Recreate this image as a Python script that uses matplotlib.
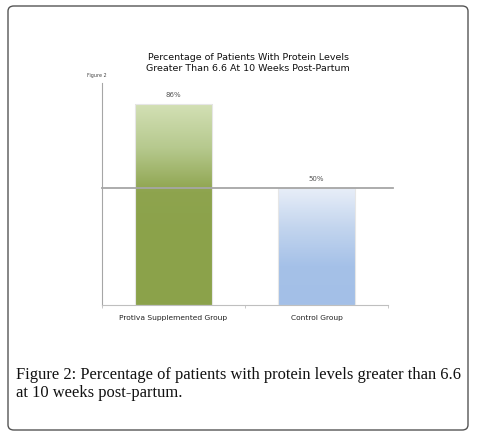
import numpy as np
import matplotlib
matplotlib.use("Agg")
import matplotlib.pyplot as plt
from matplotlib.patches import FancyBboxPatch
from matplotlib.colors import LinearSegmentedColormap

groups = ["Protiva Supplemented Group", "Control Group"]
values = [86, 50]
labels = ["86%", "50%"]
ref_level = 50

fig = plt.figure(figsize=(4.9, 4.36), dpi=100)
W, H = 490, 436

# outer rounded frame
frame = FancyBboxPatch((8 / W, 6 / H), 460 / W, 424 / H,
                       boxstyle="round,pad=0,rounding_size=0.012",
                       transform=fig.transFigure, fill=False,
                       edgecolor="#555555", linewidth=1.0)
fig.patches.append(frame)

ax = fig.add_axes([102 / W, 1 - 305 / H, 286 / W, 222 / H])
ax.set_xlim(-0.5, 1.5)
ax.set_ylim(0, 95)

grad_colors = [
    ["#d3e0b5", "#b6c98e", "#8ea44e", "#8ba24a"],
    ["#e8eef8", "#c3d5ee", "#a5c1e8", "#a3bfe7"],
]
width = 0.54
for i, (v, cols) in enumerate(zip(values, grad_colors)):
    cmap = LinearSegmentedColormap.from_list(f"g{i}", cols[::-1])
    grad = np.linspace(0, 1, 256).reshape(-1, 1)
    bar = ax.bar(i, v, width=width, color="none", edgecolor="#e6e6e6", linewidth=0.8, zorder=3)[0]
    lo = 0 if i == 1 else v * 0.35
    im = ax.imshow(grad, cmap=cmap, aspect="auto", origin="lower",
                   extent=(i - width / 2, i + width / 2, lo, v), zorder=2)
    im.set_clip_path(bar)
    if lo > 0:
        ax.bar(i, lo, width=width, color=cols[-1], linewidth=0, zorder=2)
    ax.text(i, v + 2.5, labels[i], ha="center", va="bottom", fontsize=5, color="#555555")

ax.set_xlim(-0.5, 1.5)
ax.set_ylim(0, 95)

ax.plot([-0.5, 1.535], [ref_level, ref_level], color="#a6a6a6", linewidth=1.3,
        clip_on=False, zorder=4)

for s in ["top", "right"]:
    ax.spines[s].set_visible(False)
ax.spines["left"].set_color("#a6a6a6")
ax.spines["bottom"].set_color("#bfbfbf")
ax.spines["left"].set_linewidth(0.8)
ax.spines["bottom"].set_linewidth(0.8)
ax.set_yticks([])
ax.set_xticks([-0.5, 0.5, 1.5], minor=True)
ax.tick_params(axis="x", which="minor", length=2, color="#bfbfbf")
ax.set_xticks([0, 1])
ax.set_xticklabels(groups, fontsize=5.4, color="#222222")
ax.tick_params(axis="x", which="major", length=0, pad=7)

fig.text(248 / W, 1 - 63 / H,
         "Percentage of Patients With Protein Levels\nGreater Than 6.6 At 10 Weeks Post-Partum",
         ha="center", va="center", fontsize=6.8, color="#111111", linespacing=1.25)
fig.text(97 / W, 1 - 75 / H, "Figure 2", ha="center", va="center", fontsize=3.5, color="#444444")

fig.text(16 / W, 1 - 384 / H,
         "Figure 2: Percentage of patients with protein levels greater than 6.6\nat 10 weeks post-partum.",
         ha="left", va="center", fontsize=11.9, family="Liberation Serif",
         color="#111111", linespacing=1.15)

fig.savefig("out.png", dpi=100)
